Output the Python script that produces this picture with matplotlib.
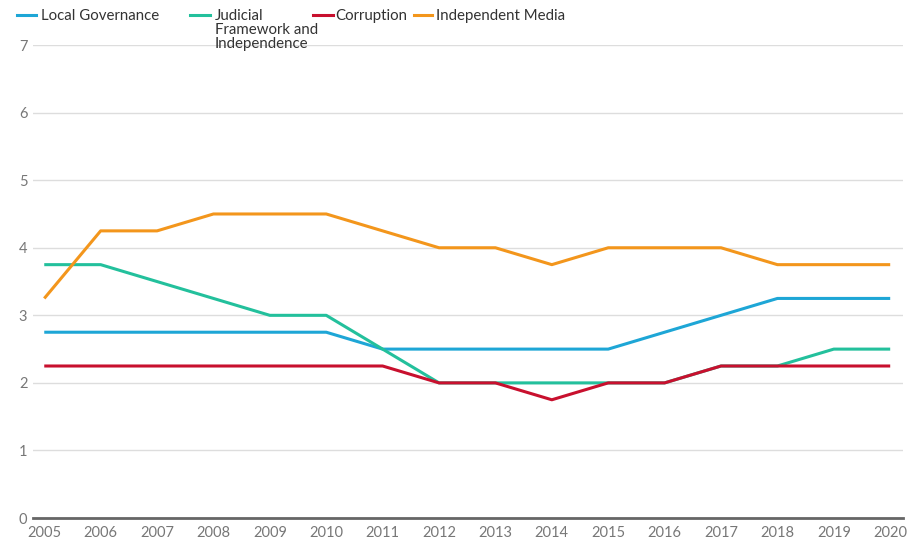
import matplotlib
matplotlib.use("Agg")
import matplotlib.pyplot as plt
from matplotlib.lines import Line2D

plt.rcParams['font.family'] = ['Lato', 'DejaVu Sans']

years = list(range(2005, 2021))
local_gov = [2.75, 2.75, 2.75, 2.75, 2.75, 2.75, 2.5, 2.5, 2.5, 2.5, 2.5, 2.75, 3.0, 3.25, 3.25, 3.25]
judicial = [3.75, 3.75, 3.5, 3.25, 3.0, 3.0, 2.5, 2.0, 2.0, 2.0, 2.0, 2.0, 2.25, 2.25, 2.5, 2.5]
corruption = [2.25, 2.25, 2.25, 2.25, 2.25, 2.25, 2.25, 2.0, 2.0, 1.75, 2.0, 2.0, 2.25, 2.25, 2.25, 2.25]
media = [3.25, 4.25, 4.25, 4.5, 4.5, 4.5, 4.25, 4.0, 4.0, 3.75, 4.0, 4.0, 4.0, 3.75, 3.75, 3.75]

series = [
    ("Local Governance", local_gov, "#1ea6d6"),
    ("Judicial\nFramework and\nIndependence", judicial, "#23c09c"),
    ("Corruption", corruption, "#c8102e"),
    ("Independent Media", media, "#f3961c"),
]

fig = plt.figure(figsize=(9.16, 5.43), dpi=100)
ax = fig.add_axes([0.036, 0.046, 0.95, 0.871])

order = [1, 0, 3, 2]
for i in order:
    name, vals, col = series[i]
    ax.plot(years, vals, color=col, lw=2.2, solid_capstyle='butt', zorder=3 + i)

ax.set_xlim(2004.8, 2020.23)
ax.set_ylim(0, 7)
ax.set_yticks(range(0, 8))
ax.set_xticks(years)
ax.grid(axis='y', color='#dddddd', lw=1)
ax.set_axisbelow(True)
for s in ['top', 'right', 'left']:
    ax.spines[s].set_visible(False)
ax.spines['bottom'].set_color('#666666')
ax.spines['bottom'].set_linewidth(2)
ax.spines['bottom'].set_zorder(10)
ax.tick_params(axis='both', length=0, labelsize=10.5, labelcolor='#777777')
ax.tick_params(axis='x', pad=6)
ax.tick_params(axis='y', pad=4)
for lbl in ax.get_yticklabels():
    lbl.set_horizontalalignment('right')

# legend drawn manually
W, H = 916, 543
leg = [
    (17, 36, 41, series[0]),
    (190, 210, 215, series[1]),
    (313, 333, 335, series[2]),
    (414, 432, 436, series[3]),
]
for x0, x1, xt, (name, _, col) in leg:
    y = 1 - 15 / H
    fig.add_artist(Line2D([x0 / W, x1 / W], [y, y], color=col, lw=2.2, transform=fig.transFigure))
    fig.text(xt / W, 1 - 9 / H, name, fontsize=10.8, color='#333333', va='top', ha='left',
             linespacing=1.0)

fig.savefig("out.png", dpi=100)
